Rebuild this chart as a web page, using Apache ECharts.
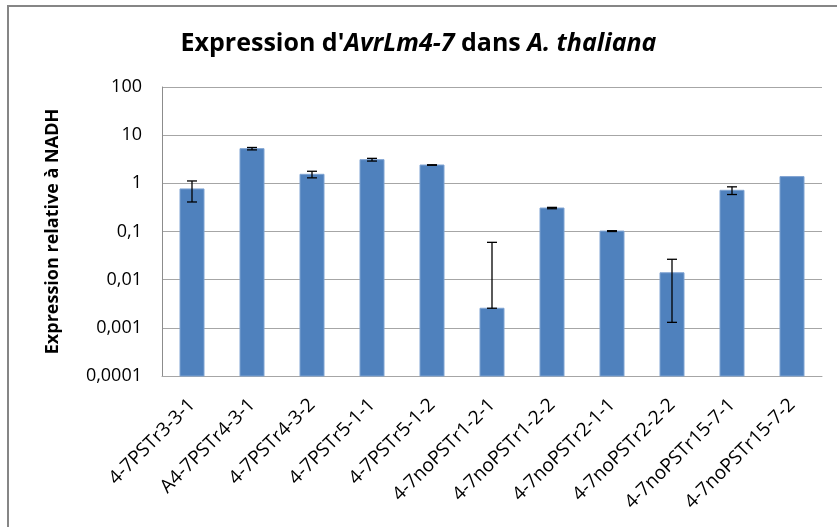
<!DOCTYPE html>
<html>
<head>
<meta charset="utf-8">
<script src="https://cdn.jsdelivr.net/npm/echarts@6/dist/echarts.min.js"></script>
<style>
  html, body { margin: 0; padding: 0; background: #fff; }
  #chart { width: 837px; height: 527px; }
</style>
</head>
<body>
<div id="chart"></div>
<script>
// Lines tested (x axis)
const categories = [
  '4-7PSTr3-3-1', 'A4-7PSTr4-3-1', '4-7PSTr4-3-2', '4-7PSTr5-1-1', '4-7PSTr5-1-2',
  '4-7noPSTr1-2-1', '4-7noPSTr1-2-2', '4-7noPSTr2-1-1', '4-7noPSTr2-2-2',
  '4-7noPSTr15-7-1', '4-7noPSTr15-7-2'
];
// Relative expression (normalised to NADH)
const expression = [0.765, 5.25, 1.54, 3.1, 2.4, 0.00255, 0.307, 0.102, 0.0139, 0.716, 1.38];
// Standard error for each line
const stdError = [0.355, 0.3, 0.24, 0.2, 0.03, 0.057, 0.01, 0.002, 0.0126, 0.13, 0];
// Y axis tick values
const yTicks = [0.0001, 0.001, 0.01, 0.1, 1, 10, 100];

const FONT = '"Open Sans", "Noto Sans", sans-serif';
const Y_MIN = yTicks[0];

// Bars rise from the bottom of the log axis
const barData = expression.map((v, i) => [i, v]);

// Error bar ranges; on a log axis the lower end is kept at the bar top when it would drop to zero or below
const errorData = expression.map((v, i) => {
  const e = stdError[i];
  const low = v - e > 0 ? v - e : v;
  return [i, low, v + e];
}).filter((d, i) => stdError[i] > 0);

function formatTick(v) {
  return String(+Number(v).toPrecision(6)).replace('.', ',');
}

const chart = echarts.init(document.getElementById('chart'), null, { renderer: 'canvas' });

chart.setOption({
  animation: false,
  backgroundColor: '#ffffff',
  graphic: [{
    type: 'rect',
    shape: { x: 8, y: 6, width: 900, height: 600 },
    style: { fill: 'none', stroke: '#868686', lineWidth: 2 },
    silent: true
  }],
  title: {
    text: "{b|Expression d'}{bi|AvrLm4-7}{b| dans }{bi|A. thaliana}",
    left: 'center',
    top: 26,
    textStyle: {
      rich: {
        b: { fontFamily: FONT, fontWeight: 'bold', fontSize: 25, color: '#000' },
        bi: { fontFamily: FONT, fontWeight: 'bold', fontStyle: 'italic', fontSize: 25, color: '#000' }
      }
    }
  },
  grid: { left: 162, right: 15, top: 87, bottom: 151, containLabel: false },
  xAxis: {
    type: 'category',
    data: categories,
    axisLine: { show: true, lineStyle: { color: '#a6a6a6', width: 1 } },
    axisTick: { show: false },
    axisLabel: {
      interval: 0,
      rotate: 45,
      margin: 26,
      fontFamily: FONT,
      fontSize: 19,
      color: '#000'
    }
  },
  yAxis: {
    type: 'log',
    logBase: 10,
    min: Y_MIN,
    max: yTicks[yTicks.length - 1],
    name: 'Expression relative à NADH',
    nameLocation: 'middle',
    nameGap: 100,
    nameRotate: 90,
    nameTextStyle: { fontFamily: FONT, fontWeight: 'bold', fontSize: 18, color: '#000' },
    axisLine: { show: true, lineStyle: { color: '#8c8c8c', width: 1 } },
    axisTick: { show: false },
    splitLine: { show: true, lineStyle: { color: '#a6a6a6', width: 1 } },
    axisLabel: {
      margin: 20,
      fontFamily: FONT,
      fontSize: 18,
      color: '#000',
      formatter: formatTick
    }
  },
  series: [
    {
      type: 'custom',
      data: barData,
      z: 5,
      renderItem: function (params, api) {
        const idx = api.value(0);
        const top = api.coord([idx, api.value(1)]);
        const base = api.coord([idx, Y_MIN]);
        const w = api.size([1, 0])[0] * 0.4;
        return {
          type: 'rect',
          shape: { x: top[0] - w / 2, y: top[1], width: w, height: base[1] - top[1] },
          style: { fill: '#4f81bd', stroke: '#7fa3d2', lineWidth: 1 }
        };
      }
    },
    {
      type: 'custom',
      data: errorData,
      z: 10,
      renderItem: function (params, api) {
        const idx = api.value(0);
        const lo = api.coord([idx, api.value(1)]);
        const hi = api.coord([idx, api.value(2)]);
        const half = 5;
        const style = { stroke: '#000', lineWidth: 1.3 };
        return {
          type: 'group',
          children: [
            { type: 'line', shape: { x1: lo[0], y1: lo[1], x2: hi[0], y2: hi[1] }, style: style },
            { type: 'line', shape: { x1: hi[0] - half, y1: hi[1], x2: hi[0] + half, y2: hi[1] }, style: style },
            { type: 'line', shape: { x1: lo[0] - half, y1: lo[1], x2: lo[0] + half, y2: lo[1] }, style: style }
          ]
        };
      }
    }
  ]
});
</script>
</body>
</html>
